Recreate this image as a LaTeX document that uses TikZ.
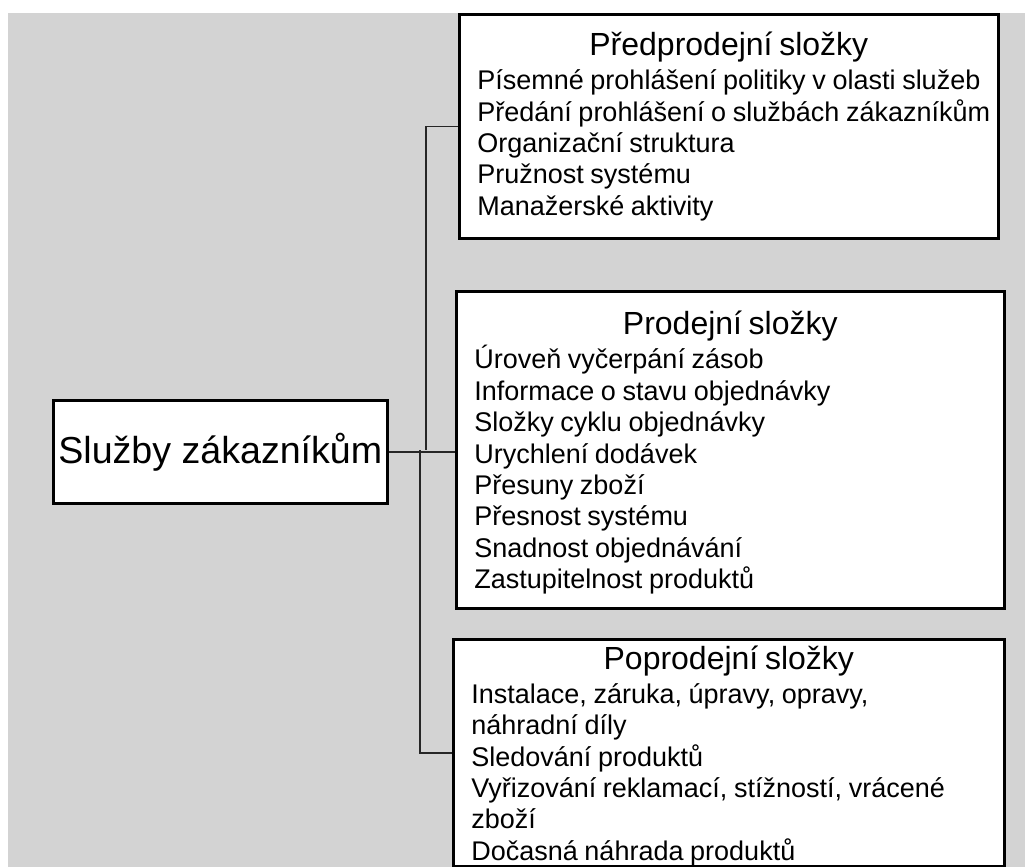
\documentclass[tikz,border=0pt]{standalone}
\usepackage{fontspec}
\setmainfont{Liberation Sans}
\setlength{\parindent}{0pt}
\definecolor{pozadi}{RGB}{211,211,211}
% nadpis skupiny: [vyska podpery]{text}
\newcommand{\nadpis}[2][0pt]{{\centering\fontsize{16}{19}\selectfont\rule{0pt}{#1}#2\par}\vspace{1.5pt}}
\newcommand{\polozky}{\fontsize{13.5}{15.7}\selectfont\lineskiplimit=-\maxdimen\leftskip=7.5pt}

\begin{document}
\begin{tikzpicture}[x=0.5pt, y=-0.5pt,
    ramecek/.style={draw, line width=1.3pt, fill=white, anchor=north west,
      inner xsep=1pt, inner ysep=0pt, align=left},
    spoj/.style={line width=0.75pt, black!85}]
  \useasboundingbox (0,0) rectangle (1025,867);
  \fill[white] (0,0) rectangle (1025,867);
  \fill[pozadi] (8,13) rectangle (1025,867);

  % hlavni uzel
  \node[ramecek, align=center, minimum width=167pt, minimum height=51.5pt,
    font=\fontsize{18.8}{22}\selectfont] (sluzby) at (52,399) {Služby zákazníkům};

  % tri skupiny slozek
  \node[ramecek, minimum width=269.5pt, minimum height=112pt, text width=266.5pt] (pred) at (458,13)
    {\nadpis{Předprodejní složky}\polozky
     Písemné prohlášení politiky v olasti služeb\\
     Předání prohlášení o službách zákazníkům\\
     Organizační struktura\\
     Pružnost systému\\
     Manažerské aktivity\par};
  \node[ramecek, minimum width=274pt, minimum height=158.5pt, text width=271pt] (prod) at (455,290)
    {\nadpis[14.7pt]{Prodejní složky}\polozky
     Úroveň vyčerpání zásob\\
     Informace o stavu objednávky\\
     Složky cyklu objednávky\\
     Urychlení dodávek\\
     Přesuny zboží\\
     Přesnost systému\\
     Snadnost objednávání\\
     Zastupitelnost produktů\par};
  \node[ramecek, minimum width=275.5pt, minimum height=113.5pt, text width=272.5pt] (popr) at (452,638)
    {\nadpis[14.7pt]{Poprodejní složky}\polozky
     Instalace, záruka, úpravy, opravy,\\
     náhradní díly\\
     Sledování produktů\\
     Vyřizování reklamací, stížností, vrácené\\
     zboží\\
     Dočasná náhrada produktů\par};

  % spojnice
  \coordinate (uzel1) at (426,450);
  \coordinate (uzel2) at (420,450);
  \draw[spoj] (sluzby.east) -- (sluzby.east -| prod.west);
  \draw[spoj] (pred.west) -| (uzel1);
  \draw[spoj] (popr.west) -| (uzel2);
\end{tikzpicture}
\end{document}
